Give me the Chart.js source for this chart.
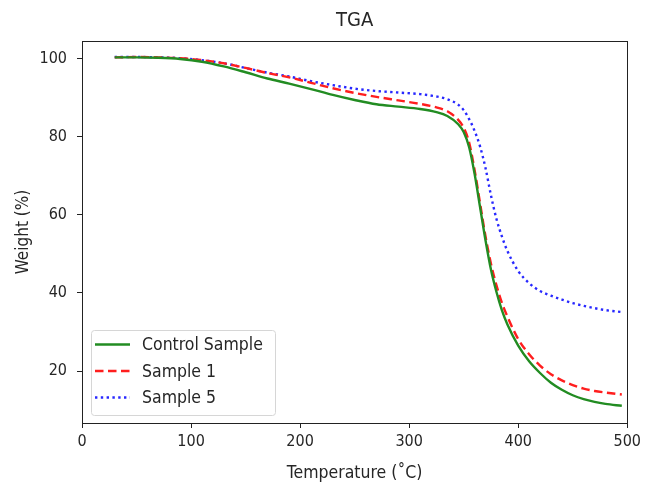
<!DOCTYPE html>
<html>
<head>
<meta charset="utf-8">
<script src="https://cdn.jsdelivr.net/npm/chart.js@4/dist/chart.umd.min.js"></script>
<style>
  html, body { margin: 0; padding: 0; background: #fff; }
  #wrap { width: 645px; height: 482px; }
</style>
</head>
<body>
<div id="wrap"><canvas id="tga"></canvas></div>
<script>
// temperature points (°C)
const temps = [30, 50, 70, 90, 110, 130, 150, 170, 190, 210,
               230, 250, 270, 290, 310, 325, 335, 345, 350, 355,
               360, 365, 370, 375, 380, 385, 390, 400, 410, 420,
               430, 440, 450, 460, 470, 480, 495];

const controlSample = [100.3, 100.3, 100.2, 99.9, 99.2, 98.0, 96.5, 94.9, 93.6, 92.2,
                       90.7, 89.4, 88.3, 87.7, 87.1, 86.3, 85.3, 83.2, 81.2, 77.3,
                       70.5, 62.0, 53.5, 46.0, 40.3, 35.6, 32.0, 26.5, 22.5, 19.5,
                       17.0, 15.2, 13.8, 12.8, 12.1, 11.6, 11.1];

const sample1 = [100.3, 100.4, 100.3, 100.1, 99.6, 98.8, 97.6, 96.3, 95.2, 93.8,
                 92.4, 91.2, 90.2, 89.3, 88.4, 87.5, 86.5, 84.3, 82.3, 78.5,
                 71.5, 63.0, 54.5, 47.5, 42.0, 37.5, 34.0, 28.2, 24.3, 21.4,
                 19.2, 17.6, 16.4, 15.5, 14.9, 14.5, 14.0];

const sample5 = [100.4, 100.4, 100.3, 100.1, 99.6, 98.8, 97.6, 96.4, 95.4, 94.2,
                 93.2, 92.3, 91.7, 91.3, 90.9, 90.3, 89.6, 88.2, 86.8, 84.5,
                 81.5, 77.5, 72.0, 65.0, 59.0, 54.5, 50.8, 45.6, 42.5, 40.5,
                 39.3, 38.3, 37.4, 36.7, 36.1, 35.6, 35.1];

const xTicks = [0, 100, 200, 300, 400, 500];
const yTicks = [20, 40, 60, 80, 100];

const FONT = "'DejaVu Sans Condensed', 'DejaVu Sans', sans-serif";
const TEXT = '#262626';

const toXY = (ys) => ys.map((y, i) => ({ x: temps[i], y: y }));

// spines on all four sides, like matplotlib
const frame = {
    id: 'frame',
    afterDraw(chart) {
        const { ctx, chartArea: a } = chart;
        ctx.save();
        ctx.strokeStyle = '#222';
        ctx.lineWidth = 1;
        ctx.strokeRect(Math.round(a.left) + 0.5, Math.round(a.top) + 0.5,
                       Math.round(a.right - a.left), Math.round(a.bottom - a.top));
        ctx.restore();
    }
};

// legend box in the lower left corner of the plot
const boxLegend = {
    id: 'boxLegend',
    afterDatasetsDraw(chart) {
        const { ctx, chartArea: a } = chart;
        const x0 = a.left + 9, w = 184, h = 85;
        const y0 = a.bottom - 8 - h;
        ctx.save();
        ctx.beginPath();
        ctx.roundRect(x0 + 0.5, y0 + 0.5, w, h, 3);
        ctx.fillStyle = 'rgba(255,255,255,0.85)';
        ctx.fill();
        ctx.strokeStyle = '#d6d6d6';
        ctx.lineWidth = 1;
        ctx.stroke();
        ctx.font = '17.5px ' + FONT;
        ctx.textBaseline = 'middle';
        chart.data.datasets.forEach((ds, i) => {
            const cy = y0 + 14.5 + i * 26.5;
            ctx.beginPath();
            ctx.setLineDash(ds.borderDash || []);
            ctx.strokeStyle = ds.borderColor;
            ctx.lineWidth = ds.borderWidth;
            ctx.moveTo(x0 + 4, cy);
            ctx.lineTo(x0 + 39, cy);
            ctx.stroke();
            ctx.setLineDash([]);
            ctx.fillStyle = TEXT;
            ctx.fillText(ds.label, x0 + 51, cy + 1);
        });
        ctx.restore();
    }
};

new Chart(document.getElementById('tga'), {
    type: 'line',
    data: {
        datasets: [
            {
                label: 'Control Sample',
                data: toXY(controlSample),
                borderColor: 'rgb(34,140,34)',
                borderWidth: 2.4
            },
            {
                label: 'Sample 1',
                data: toXY(sample1),
                borderColor: 'rgb(255,30,30)',
                borderWidth: 2.4,
                borderDash: [8.5, 4.5]
            },
            {
                label: 'Sample 5',
                data: toXY(sample5),
                borderColor: 'rgb(40,40,255)',
                borderWidth: 2.4,
                borderDash: [2.4, 3.4]
            }
        ]
    },
    options: {
        responsive: true,
        maintainAspectRatio: false,
        animation: false,
        elements: {
            point: { radius: 0 },
            line: { cubicInterpolationMode: 'monotone', borderCapStyle: 'butt', fill: false }
        },
        layout: { padding: { left: 0, right: 15, top: 0, bottom: 0 } },
        plugins: {
            legend: { display: false },
            tooltip: { enabled: false },
            title: {
                display: true,
                text: 'TGA',
                fullSize: false,
                color: TEXT,
                font: { family: FONT, size: 20, weight: 'normal' },
                padding: { top: 9, bottom: 8 }
            }
        },
        scales: {
            x: {
                type: 'linear',
                min: 0,
                max: 500,
                afterBuildTicks: s => { s.ticks = xTicks.map(v => ({ value: v })); },
                afterFit: s => { s.height = 59; },
                grid: { drawOnChartArea: false, tickLength: 5, color: '#222' },
                border: { color: '#222' },
                ticks: { color: TEXT, font: { family: FONT, size: 16 }, padding: 4, maxRotation: 0 },
                title: {
                    display: true,
                    text: 'Temperature (˚C)',
                    color: TEXT,
                    font: { family: FONT, size: 17.5 },
                    padding: { top: 0, bottom: -2 }
                }
            },
            y: {
                type: 'linear',
                min: 6.7,
                max: 104.5,
                afterBuildTicks: s => { s.ticks = yTicks.map(v => ({ value: v })); },
                afterFit: s => { s.width = 82; },
                grid: { drawOnChartArea: false, tickLength: 5, color: '#222' },
                border: { color: '#222' },
                ticks: { color: TEXT, font: { family: FONT, size: 16 }, padding: 10 },
                title: {
                    display: true,
                    text: 'Weight (%)',
                    color: TEXT,
                    font: { family: FONT, size: 17 },
                    padding: { top: 13, bottom: 0 }
                }
            }
        }
    },
    plugins: [frame, boxLegend]
});
</script>
</body>
</html>
